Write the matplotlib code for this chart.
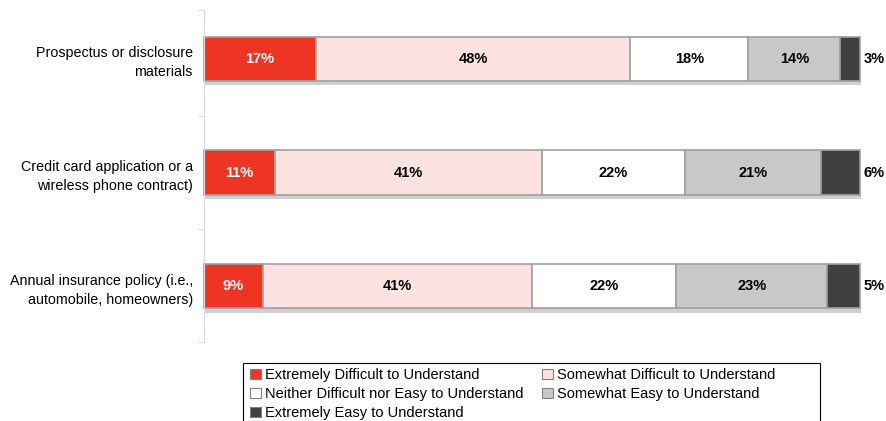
import numpy as np
import matplotlib.pyplot as plt
import matplotlib.patheffects as pe
from matplotlib.patches import Patch, Rectangle

plt.rcParams['font.family'] = ['Liberation Sans', 'DejaVu Sans']

categories = ['Prospectus or disclosure\nmaterials',
              'Credit card application or a\nwireless phone contract)',
              'Annual insurance policy (i.e.,\nautomobile, homeowners)']
series = ['Extremely Difficult to Understand',
          'Somewhat Difficult to Understand',
          'Neither Difficult nor Easy to Understand',
          'Somewhat Easy to Understand',
          'Extremely Easy to Understand']
values = np.array([[17, 48, 18, 14, 3],
                   [11, 41, 22, 21, 6],
                   [9, 41, 22, 23, 5]])
colors = ['#EE3524', '#FDE2E2', '#FFFFFF', '#C8C8C7', '#404040']
text_colors = ['white', 'black', 'black', 'black', 'black']

# rounded values don't always add to 100, scale each row to its total
widths = values / values.sum(axis=1, keepdims=True) * 100

fig = plt.figure(figsize=(8.87, 4.21), dpi=100)
ax = fig.add_axes([204/887, 1-342/421, 656/887, 332/421])

y = np.arange(len(categories))
left = np.zeros(len(categories))
shadow = [pe.SimplePatchShadow(offset=(1, -3), shadow_rgbFace='#d0d0d0', alpha=1), pe.Normal()]
handles = []
for j, name in enumerate(series):
    bars = ax.barh(y, widths[:, j], left=left, height=0.39, color=colors[j],
                   edgecolor='#a0a0a0', linewidth=1.2, clip_on=False)
    for b in bars:
        b.set_path_effects(shadow)
    for i in range(len(categories)):
        if j < len(series) - 1:
            ax.text(left[i] + widths[i, j]/2, y[i], f'{values[i, j]}%', ha='center', va='center',
                    fontsize=10.5, fontweight='bold', color=text_colors[j])
        else:
            ax.text(left[i] + widths[i, j] + 0.6, y[i], f'{values[i, j]}%', ha='left', va='center',
                    fontsize=10.5, fontweight='bold', color='black')
    left = left + widths[:, j]
    handles.append(Patch(facecolor=colors[j], edgecolor='#808080', linewidth=0.8))

ax.set_xlim(0, 100)
ax.set_ylim(2.49, -0.43)
ax.set_yticks(y)
ax.set_yticklabels(categories, fontsize=10.3, ha='right', linespacing=1.45)
ax.tick_params(axis='y', which='major', length=0, pad=8)
ax.set_yticks([-0.43, 0.5, 1.5, 2.49], minor=True)
ax.tick_params(axis='y', which='minor', length=5, color='#d9d9d9')
ax.set_xticks([])
for s in ['top', 'right', 'bottom']:
    ax.spines[s].set_visible(False)
ax.spines['left'].set_color('#d9d9d9')

# legend box is wider than its entries, draw the frame separately
fig.add_artist(Rectangle((243/887, -0.05), (820-243)/887, 0.05 + 1-363/421,
                         transform=fig.transFigure, facecolor='none',
                         edgecolor='black', linewidth=0.8))
order = [0, 2, 4, 1, 3]
leg = fig.legend([handles[k] for k in order], [series[k] for k in order], ncol=2,
                 loc='upper left', bbox_to_anchor=(246/887, 1-364/421), fontsize=10.5,
                 frameon=False, handlelength=0.7,
                 handleheight=0.7, handletextpad=0.3, columnspacing=1.3,
                 labelspacing=0.33, borderpad=0.3, borderaxespad=0)

fig.savefig('out.png', dpi=100)
